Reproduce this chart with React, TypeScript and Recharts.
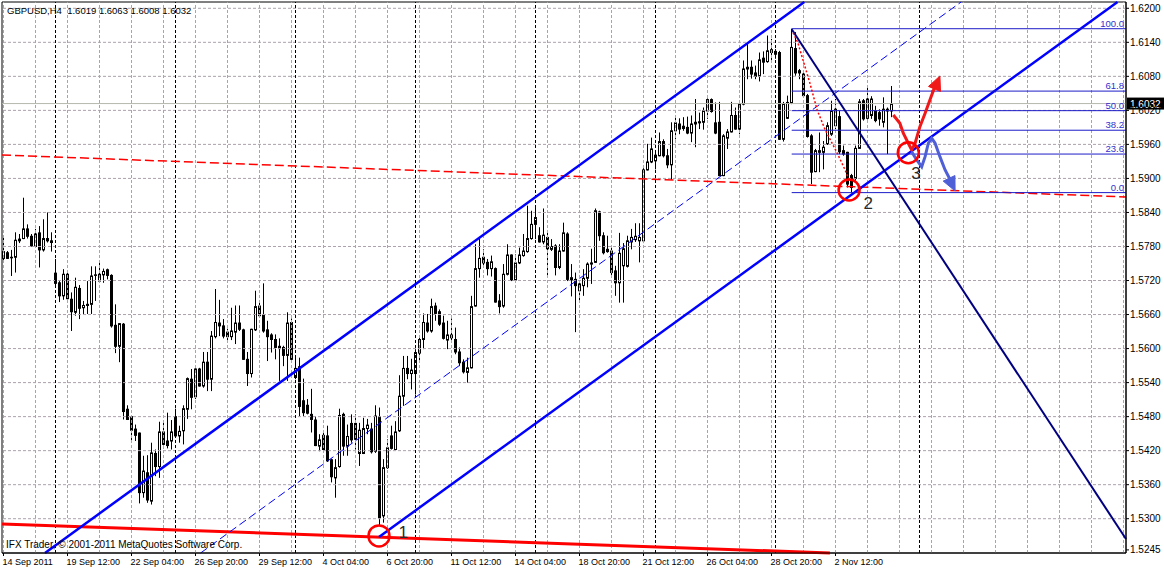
/**
 * GBPUSD H4 chart
 * Candles with channel, fibo levels and hand-drawn annotations
 */

import {
  ComposedChart,
  Bar,
  Line,
  XAxis,
  YAxis,
  ReferenceLine,
  ReferenceDot,
  ReferenceArea,
} from 'recharts';

const FONT = '"Liberation Sans", Arial, sans-serif';

// H4 bars, index 0 = 14 Sep 2011 20:00, index 222 = 4 Nov 2011 20:00
const opens = [
  1.5759, 1.5769, 1.5760, 1.5761, 1.5793, 1.5794, 1.5811, 1.5798, 1.5780, 1.5804,
  1.5774, 1.5794, 1.5790, 1.5733, 1.5716, 1.5693, 1.5731, 1.5687, 1.5664, 1.5706,
  1.5672, 1.5676, 1.5678, 1.5729, 1.5719, 1.5730, 1.5739, 1.5729, 1.5641, 1.5604,
  1.5643, 1.5493, 1.5480, 1.5458, 1.5451, 1.5346, 1.5381, 1.5331, 1.5415, 1.5392,
  1.5453, 1.5437, 1.5437, 1.5480, 1.5446, 1.5455, 1.5493, 1.5546, 1.5515, 1.5564,
  1.5534, 1.5576, 1.5546, 1.5621, 1.5645, 1.5640, 1.5629, 1.5621, 1.5629, 1.5645,
  1.5633, 1.5581, 1.5556, 1.5633, 1.5675, 1.5659, 1.5633, 1.5624, 1.5616, 1.5604,
  1.5602, 1.5588, 1.5646, 1.5549, 1.5568, 1.5508, 1.5500, 1.5484, 1.5474, 1.5428,
  1.5447, 1.5446, 1.5404, 1.5372, 1.5392, 1.5484, 1.5428, 1.5468, 1.5468, 1.5415,
  1.5415, 1.5459, 1.5458, 1.5419, 1.5480, 1.5305, 1.5390, 1.5446, 1.5422, 1.5455,
  1.5516, 1.5565, 1.5556, 1.5556, 1.5592, 1.5616, 1.5645, 1.5631, 1.5675, 1.5665,
  1.5645, 1.5615, 1.5619, 1.5616, 1.5594, 1.5576, 1.5558, 1.5566, 1.5675, 1.5741,
  1.5761, 1.5752, 1.5741, 1.5741, 1.5684, 1.5675, 1.5731, 1.5765, 1.5721, 1.5751,
  1.5764, 1.5771, 1.5794, 1.5819, 1.5799, 1.5788, 1.5796, 1.5775, 1.5781, 1.5743,
  1.5772, 1.5802, 1.5721, 1.5722, 1.5702, 1.5711, 1.5724, 1.5749, 1.5752, 1.5841,
  1.5799, 1.5775, 1.5772, 1.5737, 1.5716, 1.5746, 1.5745, 1.5788, 1.5792, 1.5790,
  1.5790, 1.5915, 1.5929, 1.5931, 1.5940, 1.5965, 1.5940, 1.5924, 1.5984, 1.5996,
  1.5992, 1.5990, 1.5980, 1.5996, 1.6000, 1.5999, 1.6019, 1.6039, 1.5998, 1.5999,
  1.5905, 1.5971, 1.5982, 1.6011, 1.5987, 1.6031, 1.6093, 1.6096, 1.6086, 1.6080,
  1.6112, 1.6106, 1.6122, 1.6124, 1.6122, 1.5969, 1.6006, 1.6033, 1.6129, 1.6090,
  1.6084, 1.6046, 1.5975, 1.5912, 1.5946, 1.5946, 1.5961, 1.5978, 1.5993, 1.6009,
  1.5949, 1.5946, 1.5905, 1.5900, 1.5953, 1.6037, 1.6006, 1.6011, 1.6019, 1.6016,
  1.5999, 1.6022, 1.6019,
];

const highs = [
  1.5799, 1.5772, 1.5774, 1.5805, 1.5802, 1.5866, 1.5819, 1.5802, 1.5811, 1.5816,
  1.5828, 1.5840, 1.5805, 1.5758, 1.5719, 1.5740, 1.5734, 1.5699, 1.5725, 1.5712,
  1.5684, 1.5719, 1.5745, 1.5745, 1.5752, 1.5741, 1.5741, 1.5731, 1.5678, 1.5645,
  1.5645, 1.5500, 1.5482, 1.5466, 1.5452, 1.5411, 1.5412, 1.5434, 1.5422, 1.5471,
  1.5469, 1.5487, 1.5474, 1.5494, 1.5464, 1.5500, 1.5549, 1.5564, 1.5565, 1.5566,
  1.5594, 1.5594, 1.5631, 1.5705, 1.5686, 1.5652, 1.5635, 1.5672, 1.5676, 1.5676,
  1.5635, 1.5594, 1.5635, 1.5702, 1.5684, 1.5715, 1.5649, 1.5627, 1.5625, 1.5618,
  1.5605, 1.5664, 1.5653, 1.5587, 1.5584, 1.5547, 1.5511, 1.5529, 1.5481, 1.5449,
  1.5455, 1.5464, 1.5406, 1.5405, 1.5494, 1.5487, 1.5466, 1.5484, 1.5484, 1.5469,
  1.5478, 1.5476, 1.5469, 1.5500, 1.5496, 1.5405, 1.5440, 1.5464, 1.5472, 1.5553,
  1.5587, 1.5587, 1.5582, 1.5599, 1.5619, 1.5662, 1.5661, 1.5688, 1.5681, 1.5669,
  1.5658, 1.5649, 1.5653, 1.5637, 1.5602, 1.5581, 1.5584, 1.5693, 1.5784, 1.5796,
  1.5775, 1.5758, 1.5764, 1.5743, 1.5696, 1.5749, 1.5784, 1.5766, 1.5766, 1.5778,
  1.5802, 1.5852, 1.5843, 1.5852, 1.5814, 1.5847, 1.5809, 1.5793, 1.5784, 1.5784,
  1.5822, 1.5805, 1.5749, 1.5734, 1.5719, 1.5740, 1.5752, 1.5776, 1.5847, 1.5843,
  1.5805, 1.5799, 1.5781, 1.5746, 1.5804, 1.5786, 1.5799, 1.5811, 1.5821, 1.5821,
  1.5918, 1.5961, 1.5972, 1.5949, 1.5981, 1.5969, 1.5952, 1.5999, 1.6008, 1.6006,
  1.6008, 1.6009, 1.6011, 1.6040, 1.6016, 1.6025, 1.6041, 1.6041, 1.6034, 1.6035,
  1.5978, 1.5987, 1.6035, 1.6025, 1.6037, 1.6108, 1.6137, 1.6108, 1.6099, 1.6122,
  1.6124, 1.6152, 1.6146, 1.6128, 1.6125, 1.6035, 1.6046, 1.6164, 1.6158, 1.6093,
  1.6087, 1.6049, 1.5978, 1.5952, 1.5981, 1.5966, 1.5999, 1.6037, 1.6040, 1.6019,
  1.5958, 1.5947, 1.5908, 1.5958, 1.6040, 1.6040, 1.6061, 1.6045, 1.6028, 1.6022,
  1.6043, 1.6025, 1.6063,
];

const lows = [
  1.5752, 1.5758, 1.5728, 1.5734, 1.5786, 1.5793, 1.5794, 1.5780, 1.5778, 1.5743,
  1.5771, 1.5787, 1.5771, 1.5712, 1.5682, 1.5686, 1.5687, 1.5631, 1.5658, 1.5652,
  1.5661, 1.5661, 1.5661, 1.5684, 1.5716, 1.5716, 1.5722, 1.5637, 1.5592, 1.5576,
  1.5475, 1.5474, 1.5437, 1.5437, 1.5327, 1.5337, 1.5328, 1.5325, 1.5375, 1.5372,
  1.5424, 1.5424, 1.5422, 1.5443, 1.5434, 1.5431, 1.5476, 1.5493, 1.5511, 1.5533,
  1.5531, 1.5525, 1.5525, 1.5618, 1.5622, 1.5618, 1.5614, 1.5615, 1.5608, 1.5631,
  1.5580, 1.5534, 1.5549, 1.5631, 1.5656, 1.5628, 1.5578, 1.5593, 1.5581, 1.5543,
  1.5569, 1.5543, 1.5578, 1.5546, 1.5481, 1.5481, 1.5484, 1.5452, 1.5428, 1.5419,
  1.5416, 1.5400, 1.5364, 1.5337, 1.5390, 1.5411, 1.5411, 1.5434, 1.5422, 1.5393,
  1.5414, 1.5449, 1.5415, 1.5416, 1.5287, 1.5293, 1.5388, 1.5422, 1.5421, 1.5453,
  1.5499, 1.5546, 1.5528, 1.5519, 1.5578, 1.5599, 1.5628, 1.5628, 1.5649, 1.5640,
  1.5616, 1.5599, 1.5615, 1.5590, 1.5569, 1.5556, 1.5540, 1.5565, 1.5674, 1.5725,
  1.5743, 1.5729, 1.5727, 1.5681, 1.5662, 1.5672, 1.5729, 1.5719, 1.5719, 1.5749,
  1.5762, 1.5769, 1.5792, 1.5793, 1.5787, 1.5784, 1.5728, 1.5772, 1.5729, 1.5740,
  1.5771, 1.5719, 1.5692, 1.5629, 1.5684, 1.5693, 1.5708, 1.5714, 1.5751, 1.5790,
  1.5766, 1.5769, 1.5728, 1.5693, 1.5681, 1.5681, 1.5743, 1.5775, 1.5788, 1.5752,
  1.5786, 1.5914, 1.5927, 1.5916, 1.5939, 1.5937, 1.5918, 1.5898, 1.5969, 1.5978,
  1.5984, 1.5978, 1.5964, 1.5955, 1.5987, 1.5986, 1.6005, 1.6016, 1.5978, 1.5904,
  1.5904, 1.5952, 1.5981, 1.5986, 1.5978, 1.6029, 1.6075, 1.6076, 1.6075, 1.6071,
  1.6084, 1.6104, 1.6105, 1.6111, 1.5968, 1.5965, 1.6005, 1.6031, 1.6081, 1.6075,
  1.6043, 1.5972, 1.5890, 1.5911, 1.5911, 1.5916, 1.5959, 1.5975, 1.5987, 1.5943,
  1.5940, 1.5884, 1.5875, 1.5896, 1.5952, 1.6002, 1.6004, 1.6005, 1.5999, 1.5993,
  1.5990, 1.5943, 1.6008,
];

const closes = [
  1.5771, 1.5759, 1.5761, 1.5791, 1.5790, 1.5811, 1.5798, 1.5781, 1.5802, 1.5774,
  1.5794, 1.5790, 1.5787, 1.5715, 1.5693, 1.5731, 1.5688, 1.5665, 1.5708, 1.5671,
  1.5676, 1.5678, 1.5728, 1.5730, 1.5731, 1.5736, 1.5729, 1.5640, 1.5604, 1.5644,
  1.5489, 1.5475, 1.5456, 1.5447, 1.5346, 1.5384, 1.5333, 1.5416, 1.5392, 1.5453,
  1.5431, 1.5429, 1.5453, 1.5446, 1.5454, 1.5494, 1.5547, 1.5514, 1.5564, 1.5534,
  1.5576, 1.5546, 1.5622, 1.5646, 1.5640, 1.5622, 1.5621, 1.5631, 1.5645, 1.5634,
  1.5581, 1.5556, 1.5634, 1.5674, 1.5658, 1.5631, 1.5621, 1.5616, 1.5602, 1.5600,
  1.5588, 1.5645, 1.5581, 1.5565, 1.5498, 1.5487, 1.5486, 1.5475, 1.5429, 1.5439,
  1.5422, 1.5402, 1.5374, 1.5390, 1.5482, 1.5428, 1.5445, 1.5439, 1.5440, 1.5456,
  1.5459, 1.5465, 1.5418, 1.5481, 1.5302, 1.5390, 1.5425, 1.5424, 1.5453, 1.5516,
  1.5565, 1.5556, 1.5562, 1.5593, 1.5616, 1.5646, 1.5631, 1.5674, 1.5662, 1.5643,
  1.5618, 1.5624, 1.5624, 1.5594, 1.5575, 1.5559, 1.5566, 1.5674, 1.5741, 1.5759,
  1.5751, 1.5741, 1.5753, 1.5682, 1.5674, 1.5731, 1.5765, 1.5721, 1.5751, 1.5765,
  1.5772, 1.5794, 1.5819, 1.5831, 1.5788, 1.5800, 1.5776, 1.5780, 1.5743, 1.5772,
  1.5804, 1.5722, 1.5725, 1.5711, 1.5714, 1.5724, 1.5749, 1.5751, 1.5843, 1.5799,
  1.5769, 1.5771, 1.5734, 1.5716, 1.5768, 1.5776, 1.5790, 1.5796, 1.5798, 1.5796,
  1.5915, 1.5929, 1.5952, 1.5941, 1.5965, 1.5940, 1.5924, 1.5984, 1.5998, 1.5987,
  1.5988, 1.5980, 1.5996, 1.5999, 1.5998, 1.6019, 1.6039, 1.6018, 1.5980, 1.5905,
  1.5975, 1.5982, 1.6011, 1.5987, 1.6031, 1.6093, 1.6096, 1.6084, 1.6080, 1.6109,
  1.6105, 1.6125, 1.6127, 1.6119, 1.5969, 1.6031, 1.6034, 1.6131, 1.6086, 1.6086,
  1.6046, 1.5974, 1.5911, 1.5949, 1.5949, 1.5955, 1.5993, 1.6019, 1.6022, 1.5947,
  1.5943, 1.5890, 1.5884, 1.5953, 1.6035, 1.6005, 1.6040, 1.6040, 1.6002, 1.6005,
  1.6022, 1.6019, 1.6032,
];

// time axis
const timeTicks = [0, 16, 32, 48, 64, 80, 96, 112, 128, 144, 160, 176, 192, 208];
const timeLabels = [
  '14 Sep 2011', '19 Sep 12:00', '22 Sep 04:00', '26 Sep 20:00', '29 Sep 12:00',
  '4 Oct 04:00', '6 Oct 20:00', '11 Oct 12:00', '14 Oct 04:00', '18 Oct 20:00',
  '21 Oct 12:00', '26 Oct 04:00', '28 Oct 20:00', '2 Nov 12:00',
];
const gridBars = [
  0, 8, 16, 24, 32, 40, 48, 56, 64, 72, 80, 88, 96, 104, 112, 120, 128, 136, 144,
  152, 160, 168, 176, 184, 192, 200, 208, 216, 224, 232, 240, 248, 256, 264, 272, 280,
];
const weekStarts = [13, 43, 73, 103, 133, 163, 193, 229];

// price axis
const priceTicks = [
  1.62, 1.614, 1.608, 1.602, 1.596, 1.59, 1.584, 1.578, 1.572, 1.566, 1.56,
  1.554, 1.548, 1.542, 1.536, 1.53, 1.5245,
];
const gridPrices = [
  1.62, 1.614, 1.608, 1.602, 1.596, 1.59, 1.584, 1.578, 1.572, 1.566, 1.56,
  1.554, 1.548, 1.542, 1.536, 1.53,
];
const lastPrice = 1.6032;

const X_MIN = -0.375;
const X_MAX = 280.625;
const Y_MIN = 1.523954;
const Y_MAX = 1.62111;

// fibo retracement from the 28 Oct high to the 3 Nov low
const fibStart = 197.05;
const fibLabels = ['100.0', '61.8', '50.0', '38.2', '23.6', '0.0'];
const fibPrices = [1.6164, 1.6054, 1.60195, 1.5985, 1.5943, 1.5875];

// trend lines: [bar, price] -> [bar, price]
const channelLines = [
  [[10.375, Y_MIN], [200.2, Y_MAX]],
  [[93.875, 1.52679], [278.5, Y_MAX]],
];
const channelMid = [[49.275, Y_MIN], [239.4, Y_MAX]];
const navyLine = [[197.05, 1.6163], [280.625, 1.52642]];
const redDashLine = [[X_MIN, 1.59414], [X_MAX, 1.58673]];
const redSolidLine = [[X_MIN, 1.52908], [206.6, Y_MIN]];

const redDotted = [
  { i: 197.4, p: 1.6157 }, { i: 198.6, p: 1.6139 }, { i: 201.6, p: 1.6068 },
  { i: 203.4, p: 1.6021 }, { i: 205.4, p: 1.5986 }, { i: 208.4, p: 1.5945 },
  { i: 210.4, p: 1.5915 }, { i: 211.6, p: 1.5894 },
];
const redArrow = [
  { i: 222.45, p: 1.60119 }, { i: 224.1, p: 1.59973 }, { i: 224.95, p: 1.59796 },
  { i: 226.2, p: 1.5962 }, { i: 227.05, p: 1.59502 }, { i: 227.9, p: 1.5962 },
  { i: 229.1, p: 1.59913 }, { i: 230.4, p: 1.60149 }, { i: 231.6, p: 1.60383 },
  { i: 232.9, p: 1.6063 }, { i: 233.6, p: 1.6072 },
];
const blueArrow = [
  { i: 227.05, p: 1.59472 }, { i: 228.3, p: 1.59326 }, { i: 229.55, p: 1.59207 },
  { i: 230.4, p: 1.59384 }, { i: 231.2, p: 1.5962 }, { i: 232.05, p: 1.59708 },
  { i: 232.9, p: 1.5962 }, { i: 234.1, p: 1.59384 }, { i: 235.4, p: 1.59149 },
  { i: 236.45, p: 1.59008 }, { i: 237.3, p: 1.5888 },
];
const redArrowTip = { i: 234.1, p: 1.60806 };
const blueArrowTip = { i: 237.9, p: 1.58779 };

const circles = [
  { i: 93.875, p: 1.52697, label: '1', li: 99.95, lp: 1.52755 },
  { i: 211.4, p: 1.58797, label: '2', li: 216.2, lp: 1.5855 },
  { i: 226.2, p: 1.59454, label: '3', li: 228.1, lp: 1.59079 },
];

function Candle(props: any) {
  const { x, y, width, height, payload } = props;
  if (!payload || height == null) return null;
  const { o, h, l, c } = payload;
  const cx = Math.round(x + width / 2 - 0.5) + 0.5;
  const py = (v: number) => y + ((h - v) / (h - l)) * height;
  const top = py(Math.max(o, c));
  const bot = py(Math.min(o, c));
  return (
    <g>
      <line x1={cx} x2={cx} y1={y} y2={y + height} stroke="#000" strokeWidth={1} />
      {c >= o ? (
        <rect x={cx - 1} y={top} width={2} height={Math.max(bot - top, 0.5)} fill="#fff" stroke="#000" strokeWidth={1} />
      ) : (
        <rect x={cx - 1.5} y={top - 0.5} width={3} height={Math.max(bot - top + 1, 1)} fill="#000" />
      )}
    </g>
  );
}

function TimeTick({ x, y, payload }: any) {
  const k = timeTicks.indexOf(payload.value);
  return (
    <text x={x - 1} y={y} dy="0.71em" fontSize={9} fontFamily={FONT} fill="#000" textAnchor="start">
      {timeLabels[k]}
    </text>
  );
}

function arrowHead(color: string, dx: number, dy: number) {
  return (p: any) => {
    const len = Math.hypot(dx, dy);
    const ux = dx / len;
    const uy = dy / len;
    const bx = p.cx - ux * 14;
    const by = p.cy - uy * 14;
    const pts = `${p.cx},${p.cy} ${bx - uy * 6.5},${by + ux * 6.5} ${bx + uy * 6.5},${by - ux * 6.5}`;
    return <polygon points={pts} fill={color} stroke={color} strokeWidth={1} />;
  };
}

export default function App() {
  const rows = opens.map((o, i) => ({
    i,
    o,
    h: highs[i],
    l: lows[i],
    c: closes[i],
    range: [lows[i], highs[i]],
  }));
  const last = rows[rows.length - 1];
  const title = `GBPUSD,H4  ${last.o.toFixed(4)} ${last.h.toFixed(4)} ${last.l.toFixed(4)} ${last.c.toFixed(4)}`;

  return (
    <div style={{ position: 'absolute', left: 0, top: 0, width: 1164, height: 571, background: '#fff' }}>
      <ComposedChart
        width={1164}
        height={571}
        data={rows}
        margin={{ top: 2, right: 0, bottom: 0, left: 2 }}
      >
        <XAxis
          dataKey="i"
          type="number"
          domain={[X_MIN, X_MAX]}
          allowDataOverflow
          ticks={timeTicks}
          interval={0}
          tick={<TimeTick />}
          tickSize={3}
          tickMargin={3}
          height={18}
          stroke="#000"
        />
        <YAxis
          orientation="right"
          type="number"
          domain={[Y_MIN, Y_MAX]}
          allowDataOverflow
          ticks={priceTicks}
          interval={0}
          tickFormatter={(v: number) => v.toFixed(4)}
          tick={{ fontSize: 10, fill: '#000', fontFamily: FONT }}
          tickSize={3}
          tickMargin={1}
          width={38}
          stroke="#000"
        />

        {/* grid */}
        {gridPrices.map((p) => (
          <ReferenceLine key={`gp${p}`} y={p} stroke="#aca2ac" strokeDasharray="3 2" ifOverflow="visible" />
        ))}
        {gridBars.map((b) => (
          <ReferenceLine key={`gb${b}`} x={b} stroke="#aca2ac" strokeDasharray="3 2" ifOverflow="visible" />
        ))}
        {weekStarts.map((b) => (
          <ReferenceLine key={`ws${b}`} x={b} stroke="#000" strokeDasharray="3 2" ifOverflow="visible" />
        ))}
        <ReferenceLine y={lastPrice} stroke="#b4b8ac" ifOverflow="visible" />

        <Bar dataKey="range" barSize={3} shape={<Candle />} isAnimationActive={false} />

        {/* objects */}
        <ReferenceLine
          segment={[{ x: redDashLine[0][0], y: redDashLine[0][1] }, { x: redDashLine[1][0], y: redDashLine[1][1] }]}
          stroke="#ff0000" strokeWidth={1.5} strokeDasharray="9 4" ifOverflow="visible"
        />
        <ReferenceLine
          segment={[{ x: redSolidLine[0][0], y: redSolidLine[0][1] }, { x: redSolidLine[1][0], y: redSolidLine[1][1] }]}
          stroke="#ff0000" strokeWidth={3} ifOverflow="visible"
        />
        {channelLines.map((s, k) => (
          <ReferenceLine
            key={`ch${k}`}
            segment={[{ x: s[0][0], y: s[0][1] }, { x: s[1][0], y: s[1][1] }]}
            stroke="#0000ff" strokeWidth={2.5} ifOverflow="visible"
          />
        ))}
        <ReferenceLine
          segment={[{ x: channelMid[0][0], y: channelMid[0][1] }, { x: channelMid[1][0], y: channelMid[1][1] }]}
          stroke="#0000ff" strokeWidth={1} strokeDasharray="8 4" ifOverflow="visible"
        />
        {fibPrices.map((p, k) => (
          <ReferenceLine
            key={`fib${k}`}
            segment={[{ x: fibStart, y: p }, { x: X_MAX, y: p }]}
            stroke="#1c1cc8" strokeWidth={1} ifOverflow="visible"
          />
        ))}
        {fibPrices.map((p, k) => (
          <ReferenceDot
            key={`fibl${k}`}
            x={X_MAX}
            y={p}
            ifOverflow="visible"
            shape={(d: any) => (
              <text x={d.cx - 2} y={d.cy - 2} fontSize={9.5} fontFamily={FONT} fill="#3030cc" textAnchor="end">
                {fibLabels[k]}
              </text>
            )}
          />
        ))}
        <ReferenceLine
          segment={[{ x: navyLine[0][0], y: navyLine[0][1] }, { x: navyLine[1][0], y: navyLine[1][1] }]}
          stroke="#000080" strokeWidth={2} ifOverflow="visible"
        />
        <Line
          data={redDotted}
          dataKey="p"
          stroke="#ff0000"
          strokeWidth={1.5}
          strokeDasharray="2 2"
          dot={false}
          isAnimationActive={false}
        />
        <Line
          data={redArrow}
          dataKey="p"
          stroke="#f01818"
          strokeWidth={3}
          dot={false}
          isAnimationActive={false}
        />
        <Line
          data={blueArrow}
          dataKey="p"
          stroke="#4f5fd6"
          strokeWidth={3}
          dot={false}
          isAnimationActive={false}
        />
        <ReferenceDot x={redArrowTip.i} y={redArrowTip.p} ifOverflow="visible" shape={arrowHead('#f01818', 10, -24)} />
        <ReferenceDot x={blueArrowTip.i} y={blueArrowTip.p} ifOverflow="visible" shape={arrowHead('#4f5fd6', 10, 21)} />

        {circles.map((c) => (
          <ReferenceDot
            key={`c${c.label}`}
            x={c.i}
            y={c.p}
            r={10.5}
            fill="none"
            stroke="#ff0000"
            strokeWidth={2.5}
            ifOverflow="visible"
          />
        ))}
        {circles.map((c) => (
          <ReferenceDot
            key={`cl${c.label}`}
            x={c.li}
            y={c.lp}
            ifOverflow="visible"
            shape={(d: any) => (
              <text x={d.cx} y={d.cy} fontSize={17} fontFamily={FONT} fill="#2a2a2a" textAnchor="middle" dominantBaseline="central">
                {c.label}
              </text>
            )}
          />
        ))}

        {/* frame and current price marker */}
        <ReferenceArea x1={X_MIN} x2={X_MAX} y1={Y_MIN} y2={Y_MAX} fill="none" stroke="#000" ifOverflow="visible" />
        <ReferenceDot
          x={X_MAX}
          y={lastPrice}
          ifOverflow="visible"
          shape={(d: any) => (
            <g>
              <rect x={d.cx + 1} y={d.cy - 6} width={37} height={12} fill="#000" />
              <text x={d.cx + 4} y={d.cy + 4} fontSize={10} fontFamily={FONT} fill="#fff">
                {lastPrice.toFixed(4)}
              </text>
            </g>
          )}
        />
      </ComposedChart>
      <svg width={1164} height={571} style={{ position: 'absolute', left: 0, top: 0, pointerEvents: 'none' }}>
        <text x={7} y={14} fontSize={9.5} fontFamily={FONT} fill="#000" style={{ whiteSpace: 'pre' }}>
          {title}
        </text>
        <text x={6} y={548} fontSize={10} fontFamily={FONT} fill="#000">
          IFX Trader, © 2001-2011 MetaQuotes Software Corp.
        </text>
      </svg>
    </div>
  );
}
